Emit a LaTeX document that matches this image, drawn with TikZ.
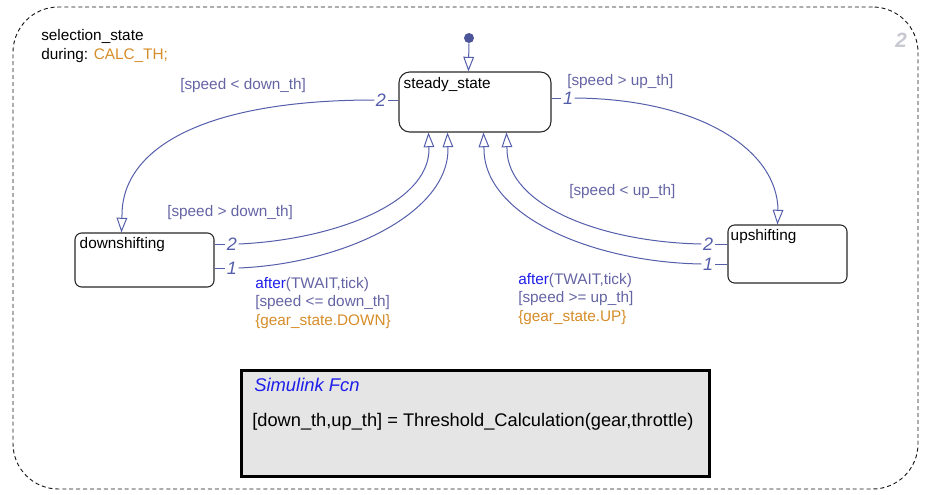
\documentclass[tikz,border=0pt]{standalone}
\usepackage{fontspec}
\setmainfont{Liberation Sans}
\usetikzlibrary{arrows.meta,calc}
\definecolor{trans}{RGB}{84,94,170}
\definecolor{lbl}{RGB}{100,100,165}
\definecolor{kw}{RGB}{30,30,235}
\definecolor{orng}{RGB}{214,140,40}
\definecolor{fcnfill}{RGB}{229,229,229}
\definecolor{numgray}{RGB}{200,200,210}
\begin{document}
\begin{tikzpicture}[x=0.75pt,y=-0.75pt,
  statebox/.style={draw=black!85, line width=0.8pt, rounded corners=7pt, inner sep=0pt},
  stname/.style={anchor=north west, inner sep=0pt, font=\fontsize{11.5}{13.5}\selectfont},
  tr/.style={draw=trans, line width=0.75pt},
  tra/.style={tr, -{Triangle[open, length=11pt, width=8pt]}},
  num/.style={text=trans, inner sep=1pt, font=\fontsize{13.5}{13.5}\selectfont\itshape},
  lab/.style={text=lbl, inner sep=0pt, align=left, font=\fontsize{11.5}{13.9}\selectfont}
]
\useasboundingbox (0,0) rectangle (925,494);
% outer chart box
\node[draw=black!90, dash pattern=on 3pt off 2.2pt, line width=0.7pt, rounded corners=34pt,
  minimum width=678.75pt, minimum height=361.5pt, inner sep=0pt] (outer) at (465.5,248) {};
\node[text=numgray, font=\fontsize{15.5}{15.5}\selectfont\bfseries\itshape] (cnum) at (901,40) {2};
\node[anchor=north west, inner sep=0pt, align=left, font=\fontsize{11.5}{14}\selectfont] (title) at (41,29)
  {selection\_state\\during: \textcolor{orng}{CALC\_TH;}};

% states
\node[statebox, minimum width=114pt, minimum height=45pt, rounded corners=8pt] (ss) at (475,102) {};
\node[stname] (sst) at ($(ss.north west)+(5,6)$) {steady\_state};
\node[statebox, minimum width=104.25pt, minimum height=40.5pt, rounded corners=5pt] (ds) at (144.5,260) {};
\node[stname] (dst) at ($(ds.north west)+(5,5)$) {downshifting};
\node[statebox, minimum width=89.25pt, minimum height=43.5pt, rounded corners=5pt] (us) at (787.5,254) {};
\node[stname] (ust) at ($(us.north west)+(3,5)$) {upshifting};

% simulink function
\node[draw=black, fill=fcnfill, line width=2.25pt, minimum width=351pt, minimum height=79.5pt, inner sep=0pt] (fcn) at (475,423) {};
\node[anchor=west, inner sep=0pt, text=kw, font=\fontsize{13.8}{14}\selectfont\itshape] (fcnt) at (254,385) {Simulink Fcn};
\node[anchor=west, inner sep=0pt, font=\fontsize{13.7}{14}\selectfont] (fcnb) at (252,422) {[down\_th,up\_th] = Threshold\_Calculation(gear,throttle)};

% default transition
\node[circle, fill=trans!90!black, inner sep=0pt, minimum size=7.5pt] (dot) at (469,38) {};
\draw[tra] (dot) -- ($(ss.north west)+(70,0)$);

% steady -> downshifting
\node[num] (n1) at (381,100) {2};
\draw[tr] (ss.west |- n1) -- (n1);
\draw[tra] (n1.west) .. controls (200,100) and (122,150) .. (122,215) -- ($(ds.north west)+(47,0)$);
\node[lab, anchor=west] (l1) at (180,86) {[speed < down\_th]};

% steady -> upshifting
\node[num] (n2) at (568,98) {1};
\draw[tr] (ss.east |- n2) -- (n2);
\draw[tra] (n2.east) .. controls (700,99) and (778,150) .. (778,211) -- ($(us.north west)+(50,0)$);
\node[lab, anchor=west] (l2) at (567,82) {[speed > up\_th]};

% downshifting -> steady (2)
\node[num] (n3) at (232,244) {2};
\draw[tr] (ds.east |- n3) -- (n3);
\draw[tra] (n3.east) .. controls (330,240) and (429,205) .. (429,149) -- ($(ss.south west)+(30,0)$);
\node[lab, anchor=west] (l3) at (167,213) {[speed > down\_th]};

% downshifting -> steady (1)
\node[num] (n4) at (232,268) {1};
\draw[tr] (ds.east |- n4) -- (n4);
\draw[tra] (n4.east) .. controls (340,264) and (448,215) .. (448,149) -- ($(ss.south west)+(49,0)$);
\node[lab, anchor=north west] (l4) at (255,277) {\textcolor{kw}{after}(TWAIT,tick)\\{}[speed <= down\_th]\\\textcolor{orng}{\{gear\_state.DOWN\}}};

% upshifting -> steady (2)
\node[num] (n5) at (708,244) {2};
\draw[tr] (us.west |- n5) -- (n5);
\draw[tra] (n5.west) .. controls (600,242) and (507,205) .. (507,149) -- ($(ss.south west)+(108,0)$);
\node[lab, anchor=west] (l5) at (569,192) {[speed < up\_th]};

% upshifting -> steady (1)
\node[num] (n6) at (708,264) {1};
\draw[tr] (us.west |- n6) -- (n6);
\draw[tra] (n6.west) .. controls (590,262) and (484,215) .. (484,149) -- ($(ss.south west)+(85,0)$);
\node[lab, anchor=north west] (l6) at (518,273) {\textcolor{kw}{after}(TWAIT,tick)\\{}[speed >= up\_th]\\\textcolor{orng}{\{gear\_state.UP\}}};
\end{tikzpicture}
\end{document}
